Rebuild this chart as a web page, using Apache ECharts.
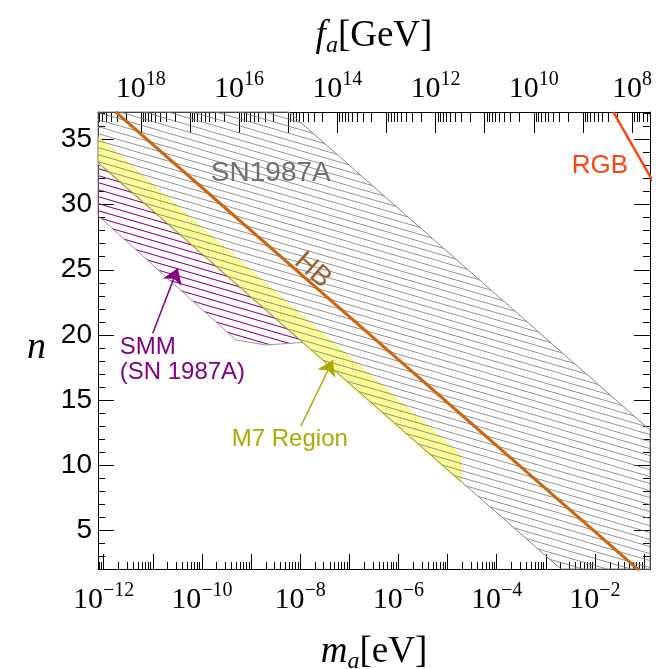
<!DOCTYPE html>
<html><head><meta charset="utf-8">
<script src="https://cdn.jsdelivr.net/npm/echarts@6/dist/echarts.min.js"></script>
<style>html,body{margin:0;padding:0;background:#fff}#c{width:663px;height:669px}</style>
</head><body><div id="c"></div>
<script>
// ---------- data (x = log10(m_a / eV), y = n) ----------
const xMin = -12.116, xMax = -0.88;
const yMin = 2.05, yMax = 37.1;
const maFaProduct = 5.7e6;               // m_a[eV] * f_a[GeV]

const bottomMajorExp = [-12,-11,-10,-9,-8,-7,-6,-5,-4,-3,-2,-1];
const bottomLabelExp = [-12,-10,-8,-6,-4,-2];
const topMajorExp = [7,8,9,10,11,12,13,14,15,16,17,18,19];
const topLabelExp = [18,16,14,12,10,8];
const leftMajor = [5,10,15,20,25,30,35];
const leftMinor = [3,4,6,7,8,9,11,12,13,14,16,17,18,19,21,22,23,24,26,27,28,29,31,32,33,34,36,37];

// SN1987A excluded band (gray hatch)
const snLogM = [-12.116, -8.23, -0.88, -0.88, -2.696, -12.116];
const snN    = [37.1,    37.1,  12.70, 2.05,  2.05,   33.23];
// M7 region (yellow band)
const m7LogM = [-12.116, -4.80, -4.73, -4.73, -12.116];
const m7N    = [35.2,    11.02, 10.55, 8.68,  33.13];
// SMM (SN 1987A) region (purple hatch)
const smmLogM = [-12.116, -7.947, -8.70, -9.31, -12.116];
const smmN    = [33.23,   19.43,  19.23, 19.62, 29.15];
// HB line
const hbLogM = [-11.756, -1.083];
const hbN    = [37.1, 1.88];
// RGB line
const rgbLogM = [-1.627, -0.80];
const rgbN    = [37.1, 31.64];

// text labels
const labelText = ['SN1987A', 'HB', 'RGB', 'SMM\n(SN 1987A)', 'M7 Region'];
const labelLogM = [-8.599, -7.743, -1.898, -11.674, -8.212];
const labelN    = [32.40, 24.96, 32.94, 18.06, 12.0];
// arrows [from, to]
const arrowFromLogM = [-11.002, -7.988];
const arrowFromN    = [20.13, 13.0];
const arrowToLogM   = [-10.493, -7.336];
const arrowToN      = [25.12, 18.06];

// ---------- styles ----------
const labelStyles = [
  {color:'#707070', size:28, rot:0, align:'center'},
  {color:'#996633', size:28, rot:-41.3, align:'center'},
  {color:'#ff4411', size:26, rot:0, align:'center'},
  {color:'#800080', size:24, rot:0, align:'left'},
  {color:'#aaaa00', size:24, rot:0, align:'center'}
];
const arrowColors = ['#800080', '#aaaa00'];

function hatch(color, w, h, lw) {
  const c = document.createElement('canvas'); c.width = w; c.height = h;
  const g = c.getContext('2d'); g.strokeStyle = color; g.lineWidth = lw;
  for (let k = -1; k <= 1; k++) {
    g.beginPath(); g.moveTo(-w, k*h - h); g.lineTo(2*w, k*h + 2*h); g.stroke();
  }
  return c;
}
const grayHatch = {image: hatch('#777777', 24, 7, 0.8), repeat: 'repeat'};
const purpleHatch = {image: hatch('#8b008b', 24, 7, 1.1), repeat: 'repeat'};

function polygonSeries(xs, ys, style, z) {
  return {
    type: 'custom', xAxisIndex: 0, yAxisIndex: 0, z: z, silent: true, animation: false,
    data: xs.map((x, i) => [x, ys[i]]),
    renderItem(params, api) {
      if (params.dataIndex !== 0) return null;
      const pts = xs.map((x, i) => api.coord([x, ys[i]]));
      return {type: 'polygon', shape: {points: pts, smooth: 0}, style: style};
    }
  };
}

const lg = Math.log10(maFaProduct);
const bottomMinor = [];
for (let d = -13; d <= -1; d++) for (let k = 2; k <= 9; k++) {
  const v = d + Math.log10(k); if (v >= xMin && v <= xMax) bottomMinor.push(v);
}
const topMajor = topMajorExp.map(k => lg - k).filter(v => v >= xMin && v <= xMax);
const topMinor = [];
for (const k of topMajorExp) for (let j = 2; j <= 9; j++) {
  const v = lg - k - Math.log10(j); if (v >= xMin && v <= xMax) topMinor.push(v);
}
const topLabels = topLabelExp.map(k => lg - k);

const serif = 'Liberation Serif', sans = 'Liberation Sans';
const tickRich = {
  b: {fontFamily: serif, fontSize: 30, color: '#000', lineHeight: 38},
  s: {fontFamily: serif, fontSize: 20, color: '#000', lineHeight: 20, verticalAlign: 'top'}
};
const titleRich = {
  i: {fontFamily: serif, fontStyle: 'italic', fontSize: 37, color: '#000', lineHeight: 44},
  u: {fontFamily: serif, fontStyle: 'italic', fontSize: 24, color: '#000', lineHeight: 24, verticalAlign: 'bottom'},
  r: {fontFamily: serif, fontSize: 37, color: '#000', lineHeight: 44}
};
const axLine = {show: true, onZero: false, lineStyle: {color: '#000', width: 1}};
const tickLine = {color: '#000', width: 1};

function xAx(pos, vals, len, labels, extra) {
  return Object.assign({
    type: 'value', min: xMin, max: xMax, position: pos, gridIndex: 0,
    splitLine: {show: false},
    axisLine: extra && extra.line ? axLine : {show: false},
    axisTick: {show: true, inside: true, length: len, customValues: vals, lineStyle: tickLine},
    axisLabel: labels || {show: false}
  }, extra && extra.name ? extra.name : {});
}
function yAx(pos, vals, len, labels, extra) {
  return Object.assign({
    type: 'value', min: yMin, max: yMax, position: pos, gridIndex: 0,
    splitLine: {show: false},
    axisLine: extra && extra.line ? axLine : {show: false},
    axisTick: {show: true, inside: true, length: len, customValues: vals, lineStyle: tickLine},
    axisLabel: labels || {show: false}
  }, extra && extra.name ? extra.name : {});
}

const option = {
  animation: false,
  backgroundColor: '#fff',
  grid: {left: 98, right: 13, top: 112, bottom: 100, containLabel: false, outerBoundsMode: 'none'},
  xAxis: [
    xAx('bottom', bottomMajorExp, 15, {
      customValues: bottomLabelExp, margin: 12, rich: tickRich,
      formatter: v => '{b|10}{s|\u2212' + Math.abs(Math.round(v)) + '}'
    }, {line: true, name: {
      name: '{i|m}{u|a}{r|[eV]}', nameLocation: 'middle', nameGap: 61,
      nameTextStyle: {rich: titleRich}
    }}),
    xAx('bottom', bottomMinor, 7),
    xAx('top', topMajor, 21, {
      customValues: topLabels, margin: 4, rich: tickRich,
      formatter: v => '{b|10}{s|' + Math.round(lg - v) + '}'
    }, {line: true, name: {
      name: '{i|f}{u|a}{r|[GeV]}', nameLocation: 'middle', nameGap: 54,
      nameTextStyle: {rich: titleRich}
    }}),
    xAx('top', topMinor, 10)
  ],
  yAxis: [
    yAx('left', leftMajor, 16, {
      customValues: leftMajor, margin: 6, fontFamily: sans, fontSize: 28, color: '#000'
    }, {line: true, name: {
      name: 'n', nameLocation: 'middle', nameGap: 52, nameRotate: 0,
      nameTextStyle: {fontFamily: serif, fontStyle: 'italic', fontSize: 38, color: '#000',
                      verticalAlign: 'top', lineHeight: 16}
    }}),
    yAx('left', leftMinor, 7),
    yAx('right', leftMajor, 16, null, {line: true}),
    yAx('right', leftMinor, 7)
  ],
  series: [
    polygonSeries(m7LogM, m7N, {fill: '#fdfd96', stroke: '#f5f050', lineWidth: 1}, 1),
    polygonSeries(snLogM, snN, {fill: grayHatch, stroke: '#888', lineWidth: 1}, 2),
    polygonSeries(smmLogM, smmN, {fill: purpleHatch, stroke: '#999', lineWidth: 1}, 2),
    {
      type: 'line', xAxisIndex: 0, yAxisIndex: 0, z: 4, clip: true, showSymbol: false, silent: true,
      data: hbLogM.map((x, i) => [x, hbN[i]]),
      lineStyle: {color: '#cc6611', width: 3}
    },
    {
      type: 'line', xAxisIndex: 0, yAxisIndex: 0, z: 4, clip: true, showSymbol: false, silent: true,
      data: rgbLogM.map((x, i) => [x, rgbN[i]]),
      lineStyle: {color: '#ff4411', width: 2.5}
    },
    {
      type: 'lines', coordinateSystem: 'cartesian2d', xAxisIndex: 0, yAxisIndex: 0, z: 5, silent: true,
      symbol: ['none', 'arrow'], symbolSize: 15,
      data: arrowFromLogM.map((x, i) => ({
        coords: [[x, arrowFromN[i]], [arrowToLogM[i], arrowToN[i]]],
        lineStyle: {color: arrowColors[i], width: 1.5, opacity: 1}
      })),
      lineStyle: {width: 1.5, opacity: 1}
    },
    {
      type: 'custom', xAxisIndex: 0, yAxisIndex: 0, z: 6, silent: true,
      data: labelText.map((t, i) => [labelLogM[i], labelN[i]]),
      renderItem(params, api) {
        const i = params.dataIndex, s = labelStyles[i];
        const p = api.coord([labelLogM[i], labelN[i]]);
        return {
          type: 'text', x: p[0], y: p[1], rotation: s.rot * Math.PI / 180,
          style: {text: labelText[i], fill: s.color, fontFamily: sans, fontSize: s.size,
                  align: s.align, verticalAlign: 'middle', lineHeight: s.size * 1.05}
        };
      }
    }
  ]
};
const chart = echarts.init(document.getElementById('c'), null, {renderer: 'canvas'});
chart.setOption(option);
</script></body></html>
